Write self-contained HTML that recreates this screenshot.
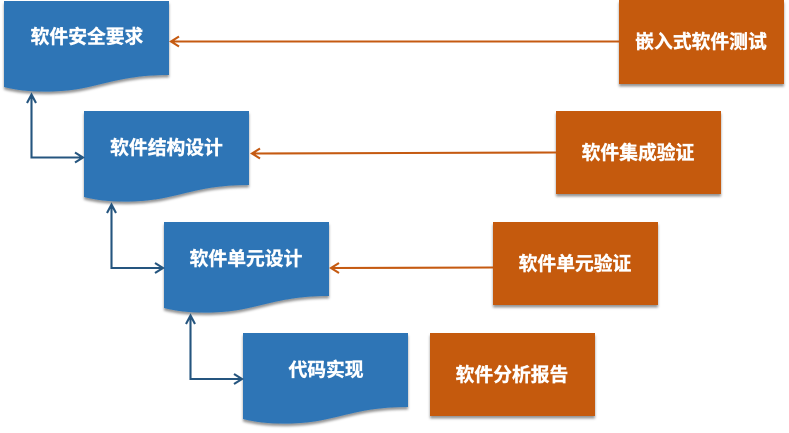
<!DOCTYPE html>
<html>
<head>
<meta charset="utf-8">
<style>
html,body{margin:0;padding:0;background:#fff;width:789px;height:433px;overflow:hidden}
svg{display:block}
text{font-family:"Liberation Sans","Noto Sans CJK SC",sans-serif;font-size:18.8px;font-weight:700;fill:#fff;stroke:#fff;stroke-width:0.35px;text-anchor:middle}
.c{fill:none;stroke-width:2.1}
.b{stroke:#25557f}
.o{stroke:#c55a11}
</style>
</head>
<body>
<svg width="789" height="433" viewBox="0 0 789 433" xmlns="http://www.w3.org/2000/svg">
<defs>
<filter id="s" x="-10%" y="-10%" width="120%" height="125%">
<feDropShadow dx="0" dy="2.5" stdDeviation="1.4" flood-color="#000" flood-opacity="0.42"/>
</filter>
<path id="doc" d="M0 0H165V74C125 74 105 82 80 87C55 92 22 92 0 86Z" fill="#2e75b6"/>
</defs>

<g filter="url(#s)">
<use href="#doc" x="4" y="1"/>
<use href="#doc" x="84" y="111"/>
<use href="#doc" x="164" y="222"/>
<use href="#doc" x="243" y="333"/>
<rect x="619" y="0" width="165" height="84" fill="#c55a11"/>
<rect x="556" y="111" width="165" height="83" fill="#c55a11"/>
<rect x="493" y="222" width="165" height="83" fill="#c55a11"/>
<rect x="430" y="333" width="165" height="83" fill="#c55a11"/>
</g>

<g class="c b">
<path d="M31.500 95V157.500H83"/>
<path d="M27 103L31.500 94.500L36 103M75 152.500L83 157.500L75 162.500"/>
<path d="M111.500 205V268H163"/>
<path d="M107 213L111.500 204.500L116 213M155 263L163 268L155 273"/>
<path d="M190.500 316V379H242"/>
<path d="M186 324L190.500 315.500L195 324M234 374L242 379L234 384"/>
</g>

<g class="c o">
<path d="M619 41.500H171"/>
<path d="M179 36.500L171 41.500L179 46.500"/>
<path d="M556 152.500L252 153.500"/>
<path d="M260 148.500L252 153.500L260 158.500"/>
<path d="M493 267.500L331 268"/>
<path d="M339 263L331 268L339 273"/>
</g>

<text x="87" y="43">软件安全要求</text>
<text x="166.500" y="154">软件结构设计</text>
<text x="246" y="265">软件单元设计</text>
<text x="326" y="376">代码实现</text>
<text x="701" y="48">嵌入式软件测试</text>
<text x="638" y="159">软件集成验证</text>
<text x="575" y="270">软件单元验证</text>
<text x="512" y="381">软件分析报告</text>
</svg>
</body>
</html>
